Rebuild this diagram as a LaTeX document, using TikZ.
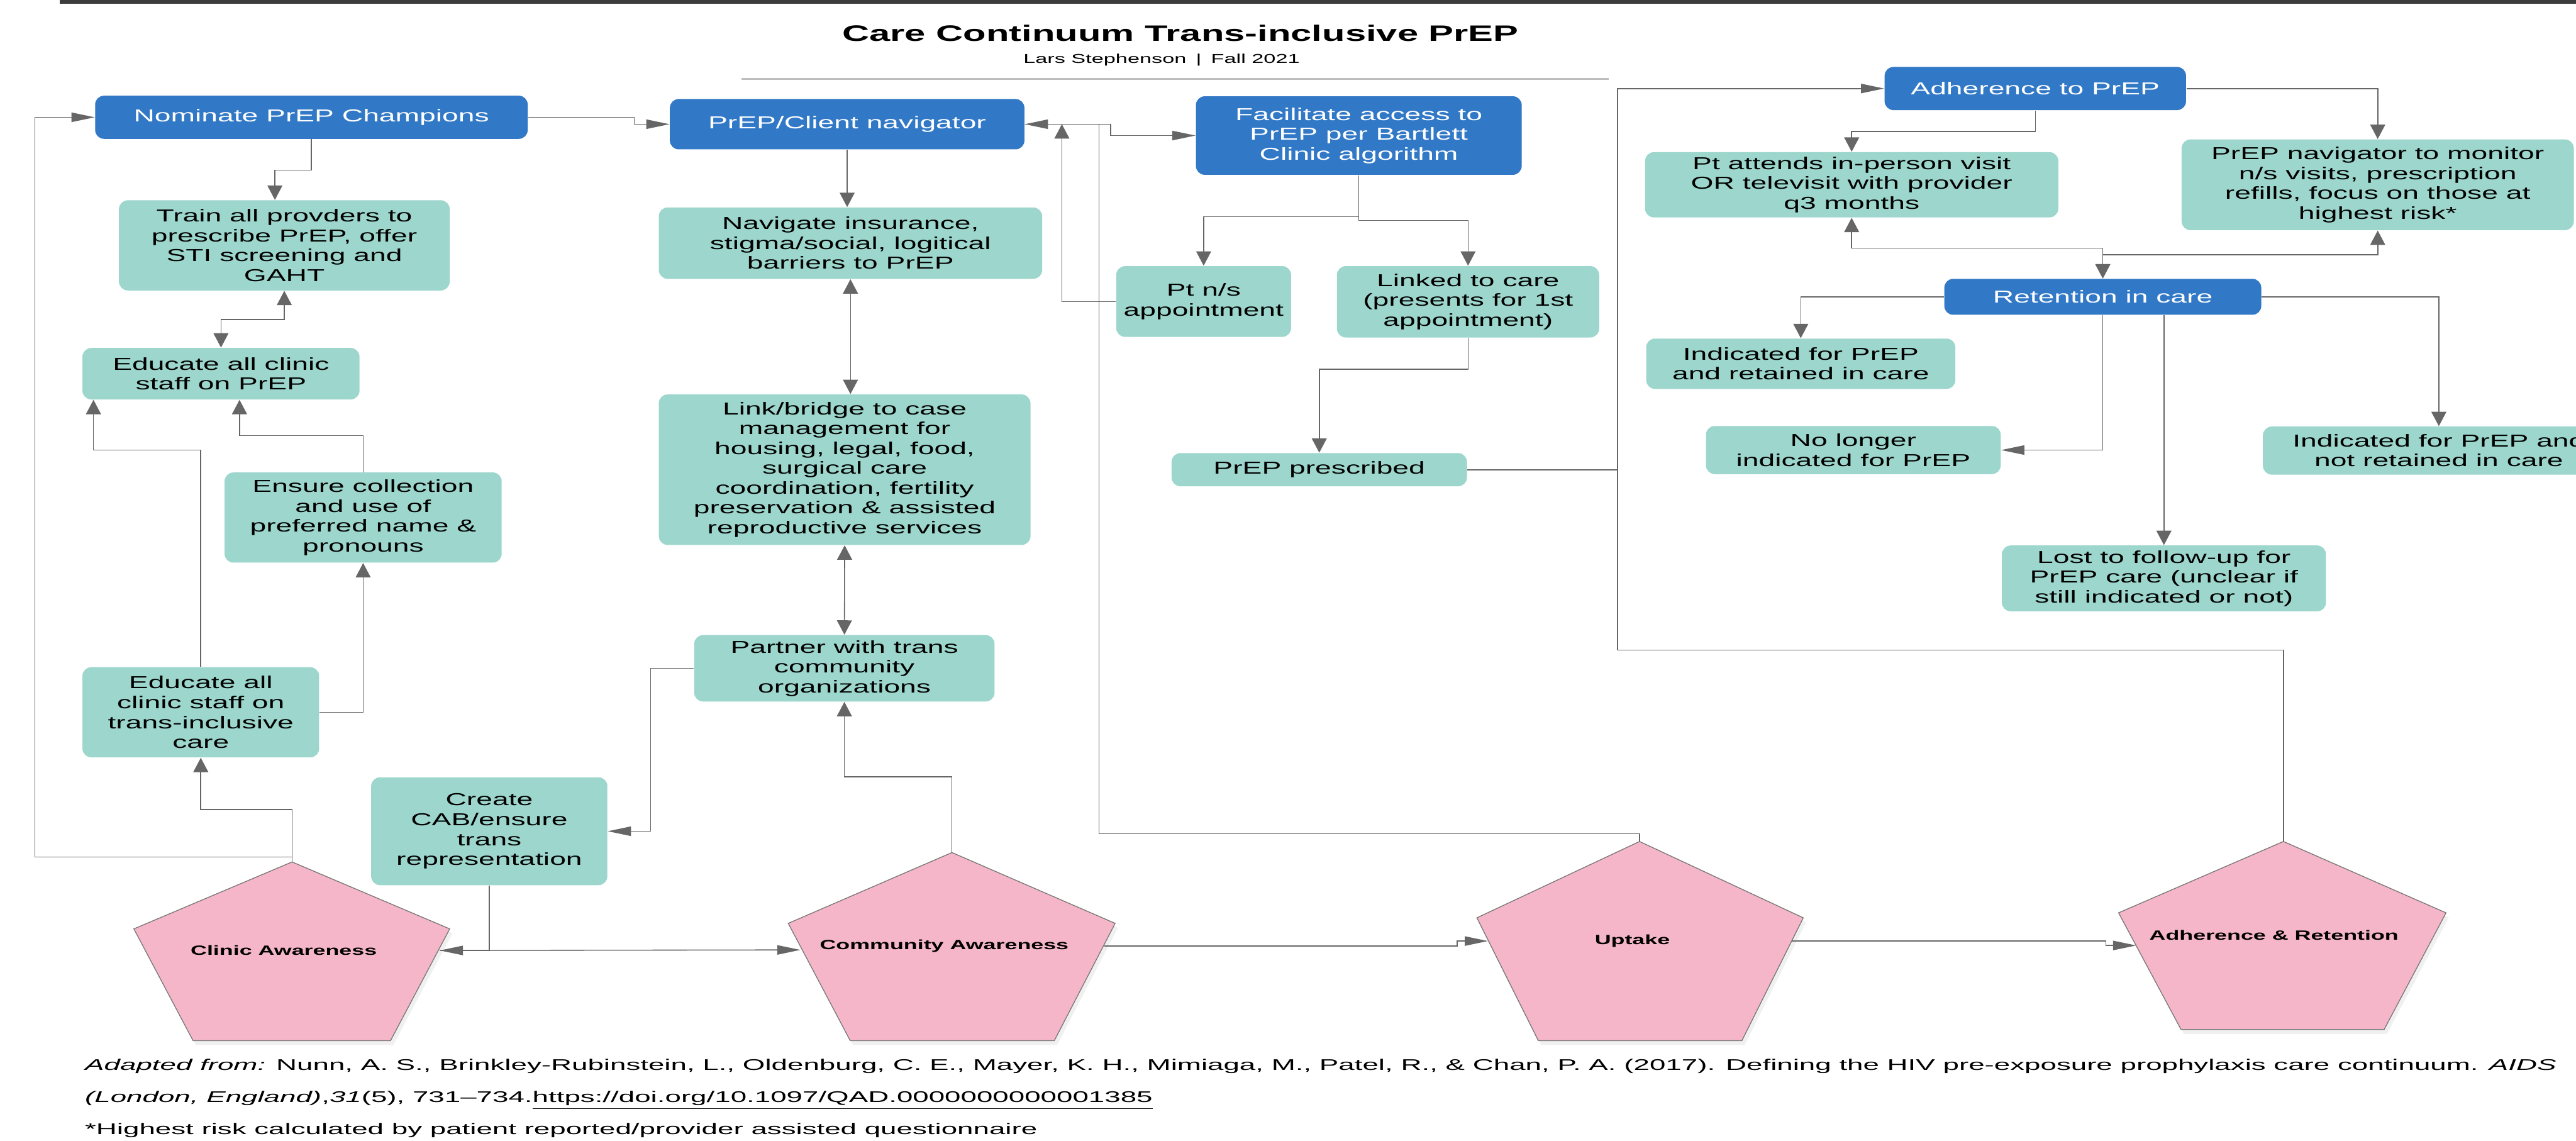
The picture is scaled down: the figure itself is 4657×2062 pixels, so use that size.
\documentclass[tikz,border=0pt]{standalone}
\usepackage{fontspec}
\setmainfont[FakeStretch=1.68]{Liberation Sans}
\newfontfamily\footfont[FakeStretch=1.86]{Liberation Sans}
\usetikzlibrary{arrows.meta,shadows}
\definecolor{cblue}{HTML}{3178C6}
\definecolor{cteal}{HTML}{9CD6CC}
\definecolor{cpink}{HTML}{F4B6C8}
\definecolor{cline}{HTML}{666666}
\definecolor{cbar}{HTML}{3C3C3C}
\definecolor{crule}{HTML}{BDBDBD}
\definecolor{cedge}{HTML}{777777}
\tikzset{
  boxbase/.style={rounded corners=1.6mm, inner sep=0pt, align=center,
    font=\fontsize{8.9pt}{10.2pt}\selectfont},
  bluebox/.style={boxbase, fill=cblue, text=white},
  tealbox/.style={boxbase, fill=cteal, text=black},
  conn/.style={draw=cline, line width=0.18mm},
  arrV/.style={conn, -{Triangle[length=2.6mm,width=2.7mm]}},
  arrVV/.style={conn, {Triangle[length=2.6mm,width=2.7mm]}-{Triangle[length=2.6mm,width=2.7mm]}},
  arrH/.style={conn, -{Triangle[length=4.2mm,width=1.7mm]}},
  pent/.style={fill=cpink, draw=cedge, line width=0.15mm,
    drop shadow={shadow xshift=0.5mm, shadow yshift=-0.8mm, opacity=0.12}},
  plabel/.style={inner sep=0pt, font=\bfseries\fontsize{6.9pt}{8pt}\selectfont},
  foot/.style={inner sep=0pt, font=\footfont\fontsize{7.95pt}{9pt}\selectfont},
}
\begin{document}
\begin{tikzpicture}[x=0.1mm, y=-0.1mm]
\useasboundingbox (0,0) rectangle (4657,2062);
\clip (0,0) rectangle (4657,2062);

% header
\fill[cbar] (108,0) rectangle (4657,7);
\node[inner sep=0pt, font=\bfseries\fontsize{11.5pt}{13pt}\selectfont] (title) at (2134,60) {Care Continuum Trans-inclusive PrEP};
\node[inner sep=0pt, font=\fontsize{6.6pt}{8pt}\selectfont] (sub) at (2100,108) {Lars Stephenson \;|\; Fall 2021};
\draw[crule, line width=0.3mm] (1341,143) coordinate (rl) -- (2908,143) coordinate (rr);

% clinic column
\node[bluebox, minimum width=78.2mm, minimum height=7.8mm] (nom) at (563,212) {Nominate PrEP Champions};
\node[tealbox, minimum width=59.8mm, minimum height=16.3mm] (train) at (514,443.5) {Train all provders to\\prescribe PrEP, offer\\STI screening and\\GAHT};
\node[tealbox, minimum width=50.1mm, minimum height=9.3mm] (edprep) at (399.5,675.5) {Educate all clinic\\staff on PrEP};
\node[tealbox, minimum width=50.1mm, minimum height=16.3mm] (ensure) at (656.5,935.5) {Ensure collection\\and use of\\preferred name \&\\pronouns};
\node[tealbox, minimum width=42.8mm, minimum height=16.3mm] (edtrans) at (363,1287.5) {Educate all\\clinic staff on\\trans-inclusive\\care};
\node[tealbox, minimum width=42.7mm, minimum height=19.5mm] (cab) at (884.5,1502.5) {Create\\CAB/ensure\\trans\\representation};

% community column
\node[bluebox, minimum width=64.1mm, minimum height=9.1mm] (nav) at (1531.5,224.5) {PrEP/Client navigator};
\node[tealbox, minimum width=69.3mm, minimum height=12.9mm] (navig) at (1537.5,439.5) {Navigate insurance,\\stigma/social, logitical\\barriers to PrEP};
\node[tealbox, minimum width=67.2mm, minimum height=27.2mm] (link) at (1527,849) {Link/bridge to case\\management for\\housing, legal, food,\\surgical care\\coordination, fertility\\preservation \& assisted\\reproductive services};
\node[tealbox, minimum width=54.3mm, minimum height=12mm] (partner) at (1526.5,1208) {Partner with trans\\community\\organizations};

% uptake column
\node[bluebox, minimum width=58.9mm, minimum height=14.2mm] (fac) at (2456.5,245) {Facilitate access to\\PrEP per Bartlett\\Clinic algorithm};
\node[tealbox, minimum width=31.6mm, minimum height=12.8mm] (ptns) at (2176,545) {Pt n/s\\appointment};
\node[tealbox, minimum width=47.4mm, minimum height=12.9mm] (linked) at (2654,545.5) {Linked to care\\(presents for 1st\\appointment)};
\node[tealbox, minimum width=53.4mm, minimum height=6mm] (presc) at (2385,849) {PrEP prescribed};

% adherence column
\node[bluebox, minimum width=54.5mm, minimum height=7.8mm] (adh) at (3679.5,160) {Adherence to PrEP};
\node[tealbox, minimum width=74.7mm, minimum height=11.8mm] (ptatt) at (3347.5,334) {Pt attends in-person visit\\OR televisit with provider\\q3 months};
\node[tealbox, minimum width=70.9mm, minimum height=16.4mm] (pnav) at (4298.5,334) {PrEP navigator to monitor\\n/s visits, prescription\\refills, focus on those at\\highest risk*};
\node[bluebox, minimum width=57.3mm, minimum height=6.5mm] (ret) at (3801.5,536.5) {Retention in care};
\node[tealbox, minimum width=55.9mm, minimum height=9.1mm] (indret) at (3255.5,657.5) {Indicated for PrEP\\and retained in care};
\node[tealbox, minimum width=53.3mm, minimum height=8.7mm] (nolong) at (3350.5,813.5) {No longer\\indicated for PrEP};
\node[tealbox, minimum width=58.6mm, minimum height=11.9mm] (lost) at (3912,1045.5) {Lost to follow-up for\\PrEP care (unclear if\\still indicated or not)};
\node[tealbox, minimum width=63.6mm, minimum height=8.7mm] (indnot) at (4409,814.5) {Indicated for PrEP and\\not retained in care};

% pentagons
\path[pent] (528,1558) -- (813,1679) -- (706,1881) -- (349,1881) -- (242,1679) -- cycle;
\path[pent] (1721,1541) -- (2016,1669) -- (1906,1881) -- (1537,1881) -- (1425,1669) -- cycle;
\path[pent] (2964,1521) -- (3260,1659) -- (3149,1881) -- (2781,1881) -- (2670,1659) -- cycle;
\path[pent] (4128,1521) -- (4422,1650) -- (4310,1861) -- (3943,1861) -- (3830,1650) -- cycle;
\coordinate (ca) at (528,1558);
\coordinate (cr) at (795,1718);
\coordinate (ma) at (1721,1541);
\coordinate (ml) at (1447,1717);
\coordinate (mr) at (1996,1710);
\coordinate (ua) at (2964,1521);
\coordinate (ul) at (2690,1701);
\coordinate (ur) at (3239,1701);
\coordinate (aa) at (4128,1521);
\coordinate (al) at (3862,1709);
\node[plabel] (clinic) at (513,1718) {Clinic Awareness};
\node[plabel] (commu) at (1707,1710) {Community Awareness};
\node[plabel] (uptake) at (2951,1701) {Uptake};
\node[plabel] (adret) at (4111,1691) {Adherence \& Retention};

% connectors: clinic column
\draw[arrH] (nom.east) -- ++(192,0) |- (nav.west);
\draw[arrV] (nom.south) -- ++(0,56) -| ([xshift=-1.7mm]train.north);
\draw[arrVV] (train.south) -- ++(0,52) -| (edprep.north);
\draw[arrV] (edtrans.north) -- ++(0,-392) -| ([xshift=-23.05mm]edprep.south);
\draw[arrV] (ensure.north) -- ++(0,-66) -| ([xshift=3.35mm]edprep.south);
\draw[arrV] (edtrans.east) -| (ensure.south);
\draw[arrV] (ca) -- ++(0,-95) -| (edtrans.south);
\draw[arrH] (ca) -- ++(0,-9) -| (63,212) -- (nom.west);
\draw[arrH] (cab.south) |- (cr);
\draw[arrH] (cr) -- (ml);

% connectors: community column
\draw[arrH] (partner.west) -- ++(-78,0) |- (cab.east);
\draw[arrV] (ma) -- ++(0,-137) -| (partner.south);
\draw[arrVV] (link.south) -- (partner.north);
\draw[arrVV] (navig.south) -- (navig.south |- link.north);
\draw[arrV] (nav.south) -- (nav.south |- navig.north);
\draw[arrH] (nav.east) -- ++(155,0) |- (fac.west);
\draw[arrH] (ua) -- ++(0,-14) -| ([xshift=13.4mm]nav.east) -- (nav.east);
\draw[arrV] (ptns.west) -| ([xshift=6.7mm]nav.east);
\draw[arrH] (mr) -- (2634,1710) |- (ul);

% connectors: uptake column
\draw[arrV] (fac.south) -- ++(0,75) -| (ptns.north);
\draw[arrV] (fac.south) -- ++(0,82) -| (linked.north);
\draw[arrV] (linked.south) -- ++(0,57) -| (presc.north);
\draw[arrH] (presc.east) -- (2924,849) |- (adh.west);
\draw[conn] (aa) -- ++(0,-346) -| (2924,849);
\draw[arrH] (ur) -- (3807,1701) |- (al);

% connectors: adherence column
\draw[arrV] (adh.south) -- ++(0,38) -| (ptatt.north);
\draw[arrV] (adh.east) -| (pnav.north);
\draw[arrVV] (ptatt.south) -- ++(0,55) -| (ret.north);
\draw[arrVV] (pnav.south) -- ++(0,44) -| (ret.north);
\draw[arrV] (ret.west) -| (indret.north);
\draw[arrH] (ret.south) |- (nolong.east);
\draw[arrV] (lost.north |- ret.south) -- (lost.north);
\draw[arrV] (ret.east) -| (indnot.north);

% footer
\node[foot, anchor=base west] (f1) at (153,1935) {\textit{Adapted from:} Nunn, A. S., Brinkley-Rubinstein, L., Oldenburg, C. E., Mayer, K. H., Mimiaga, M., Patel, R., \& Chan, P. A. (2017). Defining the HIV pre-exposure prophylaxis care continuum. \textit{AIDS}};
\node[foot, anchor=base west] (f2) at (153,1993) {\textit{(London, England)},\textit{31}(5), 731–734.\underline{https://doi.org/10.1097/QAD.0000000000001385}};
\node[foot, anchor=base west] (f3) at (153,2050) {*Highest risk calculated by patient reported/provider assisted questionnaire};
\end{tikzpicture}
\end{document}
